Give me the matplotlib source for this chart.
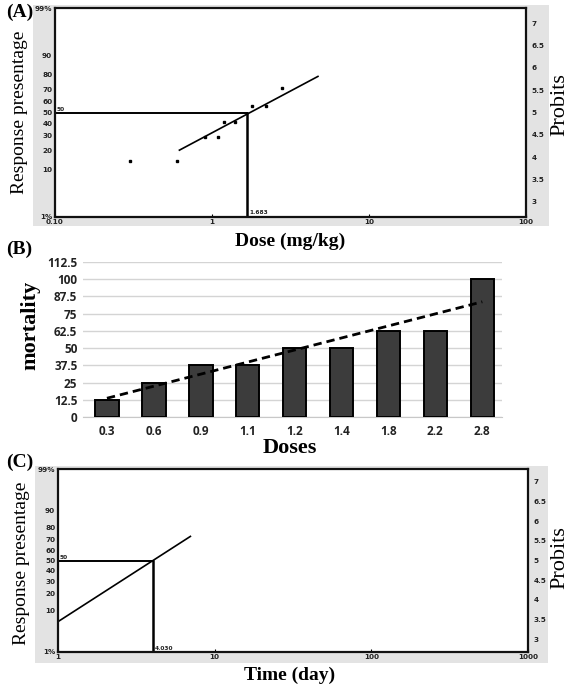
import matplotlib
matplotlib.use("Agg")
import matplotlib.pyplot as plt
import numpy as np
from statistics import NormalDist
from matplotlib.patches import Rectangle

# ---------------- data ----------------
doses = [0.3, 0.6, 0.9, 1.1, 1.2, 1.4, 1.8, 2.2, 2.8]
dose_labels = ["0.3", "0.6", "0.9", "1.1", "1.2", "1.4", "1.8", "2.2", "2.8"]
mortality = [12.5, 25, 37.5, 37.5, 50, 50, 62.5, 62.5, 100]

a_resp_pct = [14, 14, 29, 29, 42, 42, 56, 56, 71]
a_fit_dose = [0.62, 4.73]
a_fit_pct = [20, 79]
a_ld50 = 1.683

# panel C: time-response line
c_fit_time = [1.0, 7.0]
c_fit_pct = [6, 73]
c_lt50 = 4.030

pct_ticks = [1, 10, 20, 30, 40, 50, 60, 70, 80, 90, 99]
pct_labels = ["1%", "10", "20", "30", "40", "50", "60", "70", "80", "90", "99%"]
probit_ticks = [3, 3.5, 4, 4.5, 5, 5.5, 6, 6.5, 7]
probit_labels = ["3", "3.5", "4", "4.5", "5", "5.5", "6", "6.5", "7"]
b_yticks = [0, 12.5, 25, 37.5, 50, 62.5, 75, 87.5, 100, 112.5]
b_ylabels = ["0", "12.5", "25", "37.5", "50", "62.5", "75", "87.5", "100", "112.5"]

# ---------------- helpers ----------------
W, H = 583, 685
nd = NormalDist()


def probit(p):
    return nd.inv_cdf(p / 100.0) + 5


def fx(px):
    return px / W


def fy(py):
    return 1 - py / H


def ax_rect(x0, y0, x1, y1):
    return [fx(x0), fy(y1), fx(x1) - fx(x0), fy(y0) - fy(y1)]


SERIF = "Liberation Serif"
TICKFONT = dict(family="DejaVu Sans", weight="bold", size=5.2, color="#222222")

fig = plt.figure(figsize=(W / 100, H / 100), dpi=100)
fig.patch.set_facecolor("white")

# gray frames behind probit panels
for (x0, y0, x1, y1) in [(33, 5, 549, 226), (35, 466, 548, 663)]:
    fig.patches.append(Rectangle((fx(x0), fy(y1)), fx(x1) - fx(x0), fy(y0) - fy(y1),
                                 transform=fig.transFigure, facecolor="#e3e3e3",
                                 edgecolor="none", zorder=-10))


def probit_panel(rect, xlim, xticks, xticklabels, ld_x, ld_label):
    ax = fig.add_axes(rect)
    ax.set_zorder(2)
    ax.set_facecolor("white")
    ax.set_xscale("log")
    ax.set_xlim(*xlim)
    ylo, yhi = probit(1), probit(99)
    ax.set_ylim(ylo, yhi)
    ax.set_yticks([probit(p) for p in pct_ticks])
    ax.set_yticklabels(pct_labels, **TICKFONT)
    ax.set_xticks(xticks)
    ax.set_xticklabels(xticklabels, **TICKFONT)
    ax.xaxis.set_minor_locator(matplotlib.ticker.NullLocator())
    ax.tick_params(axis="y", length=0, pad=2)
    ax.tick_params(axis="x", length=2, width=0.8, pad=1.5, direction="in")
    for s in ax.spines.values():
        s.set_linewidth(1.6)
        s.set_color("#111111")
    ax2 = ax.twinx()
    ax2.set_ylim(ylo, yhi)
    ax2.set_yticks(probit_ticks)
    ax2.set_yticklabels(probit_labels, **TICKFONT)
    ax2.tick_params(axis="y", length=0, pad=4)
    for s in ax2.spines.values():
        s.set_visible(False)
    # LD50 guide lines
    ax.plot([xlim[0], ld_x], [5, 5], color="black", lw=1.4)
    ax.plot([ld_x, ld_x], [5, ylo], color="black", lw=1.8)
    ax.text(xlim[0] * 1.02, 5.02, "50", fontsize=4.2, fontweight="bold",
            va="bottom", ha="left", color="#222222")
    ax.text(ld_x * 1.03, ylo + 0.03, ld_label, fontsize=4.2, fontweight="bold",
            va="bottom", ha="left", color="#222222")
    return ax


# ---------------- panel A ----------------
axA = probit_panel(ax_rect(55, 8.4, 526, 216.6), (0.1, 100), [0.1, 1, 10, 100],
                   ["0.10", "1", "10", "100"], a_ld50, f"{a_ld50:.3f}")
axA.plot(doses, [probit(p) for p in a_resp_pct], "s", color="black", ms=1.8)
axA.plot(a_fit_dose, [probit(p) for p in a_fit_pct], color="black", lw=1.2)

fig.text(fx(6), fy(4), "(A)", family=SERIF, weight="bold", fontsize=14, va="top", ha="left")
fig.text(fx(20), fy(112), "Response presentage", family=SERIF, fontsize=14,
         rotation=90, va="center", ha="center")
fig.text(fx(560), fy(105), "Probits", family=SERIF, fontsize=16,
         rotation=90, va="center", ha="center")
fig.text(fx(290), fy(241), "Dose (mg/kg)", family=SERIF, weight="bold", fontsize=14,
         va="center", ha="center")

# ---------------- panel B ----------------
axB = fig.add_axes(ax_rect(83, 262, 502, 417))
x = np.arange(len(doses))
axB.bar(x, mortality, width=0.5, color="#3c3c3c", edgecolor="black", linewidth=1.4, zorder=3)
coef = np.polyfit(x, mortality, 1)
axB.plot([x[0], x[-1]], np.polyval(coef, [x[0], x[-1]]), "--", color="black", lw=2.0,
         dashes=(3, 1.8), zorder=4)
axB.set_xlim(-0.51, 8.42)
axB.set_ylim(0, 112.5)
axB.set_yticks(b_yticks)
axB.set_yticklabels(b_ylabels, family="Open Sans", weight="bold", fontsize=8.5, color="#222222")
axB.set_xticks(x)
axB.set_xticklabels(dose_labels, family="Open Sans", weight="bold", fontsize=8.5, color="#222222")
axB.tick_params(length=0, pad=6)
axB.tick_params(axis="y", pad=4)
axB.grid(axis="y", color="#d4d4d4", lw=1.0, zorder=0)
for k, s in axB.spines.items():
    s.set_visible(k == "bottom")
axB.spines["bottom"].set_color("#c8c8c8")

fig.text(fx(6), fy(249), "(B)", family=SERIF, weight="bold", fontsize=14, va="center", ha="left")
fig.text(fx(30), fy(325), "mortality", family=SERIF, weight="bold", fontsize=16,
         rotation=90, va="center", ha="center")
fig.text(fx(290), fy(448), "Doses", family=SERIF, weight="bold", fontsize=16,
         va="center", ha="center")

# ---------------- panel C ----------------
axC = probit_panel(ax_rect(58, 469, 528, 652), (1, 1000), [1, 10, 100, 1000],
                   ["1", "10", "100", "1000"], c_lt50, f"{c_lt50:.3f}")
axC.plot(c_fit_time, [probit(p) for p in c_fit_pct], color="black", lw=1.2)

fig.text(fx(6), fy(462), "(C)", family=SERIF, weight="bold", fontsize=14, va="center", ha="left")
fig.text(fx(22), fy(563), "Response presentage", family=SERIF, fontsize=14,
         rotation=90, va="center", ha="center")
fig.text(fx(560), fy(558), "Probits", family=SERIF, fontsize=16,
         rotation=90, va="center", ha="center")
fig.text(fx(290), fy(675), "Time (day)", family=SERIF, weight="bold", fontsize=14,
         va="center", ha="center")

fig.savefig("out.png", dpi=100)
